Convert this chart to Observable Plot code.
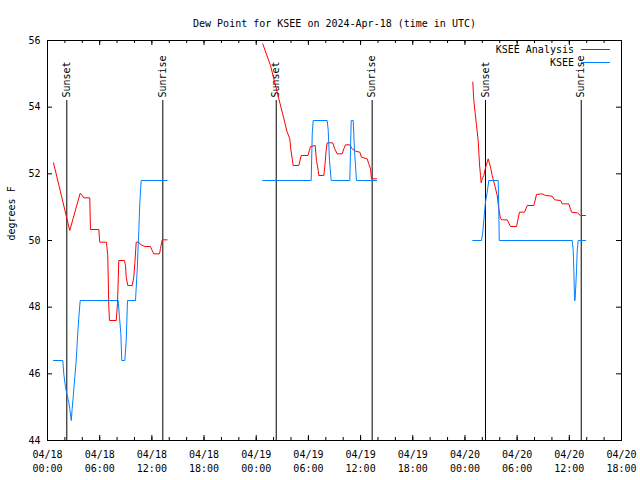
<!DOCTYPE html>
<html><head><meta charset="utf-8">
<script src="https://cdn.jsdelivr.net/npm/d3@7"></script>
<script src="https://cdn.jsdelivr.net/npm/@observablehq/plot@0.6"></script>
<style>html,body{margin:0;padding:0;background:#fff} svg{display:block}</style>
</head><body><div id="chart"></div>
<script>
// ---- data (time in hours since 2024-04-18 00:00 UTC, dew point in °F) ----
const titleText = "Dew Point for KSEE on 2024-Apr-18 (time in UTC)";
const yLabelText = "degrees F";
const startISO = "2024-04-18T00:00:00Z";
const endISO = "2024-04-20T18:00:00Z";

const analysisHours = [
  0.69,2.56,3.76,3.99,4.17,4.86,4.94,5.90,6.01,6.78,6.93,7.05,7.13,7.90,8.05,8.20,8.85,8.97,9.05,9.23,9.74,9.92,10.04,10.20,10.50,10.69,11.19,11.84,12.04,12.22,12.88,12.99,13.19,13.76,
  24.75,25.64,26.41,26.99,27.56,27.86,27.97,28.14,28.25,28.90,29.17,29.95,30.24,30.78,30.93,31.13,31.19,31.77,31.88,32.04,32.16,32.80,33.03,33.31,33.88,34.07,34.26,34.76,35.03,35.41,35.91,36.10,36.76,36.94,37.14,37.25,37.83,
  48.90,49.02,49.33,49.52,49.67,49.79,49.87,49.98,50.17,50.28,50.44,50.67,50.94,51.13,51.43,51.71,51.89,52.09,52.28,52.86,53.24,53.93,54.27,54.85,55.16,55.92,56.23,56.88,57.26,58.03,58.30,58.99,59.18,59.94,60.25,60.91,61.29,61.86
];
const analysisValues = [
  52.33,50.30,51.42,51.35,51.28,51.28,50.33,50.33,49.95,49.95,49.55,48.00,47.60,47.60,48.11,49.40,49.40,49.25,48.90,48.65,48.65,48.90,49.31,49.95,49.95,49.88,49.82,49.82,49.70,49.60,49.60,49.76,50.02,50.02,
  55.90,55.25,54.45,53.85,53.25,53.05,52.75,52.45,52.25,52.25,52.55,52.55,52.82,52.85,52.40,52.10,51.95,51.95,52.20,52.70,52.93,52.93,52.75,52.60,52.60,52.75,52.87,52.87,52.75,52.68,52.65,52.50,52.45,52.30,52.15,51.85,51.85,
  54.75,54.20,53.45,53.00,52.30,51.95,51.73,51.85,51.95,52.10,52.25,52.45,52.20,51.95,51.65,51.35,50.95,50.65,50.62,50.62,50.42,50.42,50.85,50.85,51.05,51.05,51.38,51.40,51.35,51.33,51.22,51.20,51.10,51.10,50.85,50.83,50.75,50.75
];

const obsHours = [
  0.69,1.76,1.87,2.07,2.27,2.45,2.56,2.73,2.84,2.95,3.14,3.30,3.48,3.60,3.76,8.13,8.28,8.43,8.54,8.89,9.05,9.20,10.12,10.31,10.50,10.61,10.77,13.76,
  24.75,30.32,30.44,30.55,32.16,32.28,32.42,32.62,34.76,34.84,34.92,35.15,35.30,35.53,37.83,
  48.90,49.90,50.05,50.22,50.36,50.56,50.74,51.82,51.89,51.94,60.33,60.45,60.52,60.60,60.66,60.83,60.91,61.02,61.86
];
const obsValues = [
  46.4,46.4,46.01,45.59,45.35,45.14,44.96,44.6,44.96,45.29,45.89,46.4,47.21,47.69,48.2,48.2,47.69,47.21,46.4,46.4,47.0,48.2,48.2,49.1,50.3,51.11,51.8,51.8,
  51.8,51.8,53.2,53.6,53.6,53.3,52.4,51.8,51.8,52.7,53.6,53.6,52.7,51.8,51.8,
  50.0,50.0,50.25,50.75,51.15,51.45,51.8,51.8,50.95,50.0,50.0,49.7,49.1,48.2,48.2,49.1,49.7,50.0,50.0
];

const sunHours = [2.22, 13.26, 26.30, 37.33, 50.36, 61.37];
const sunLabels = ["Sunset", "Sunrise", "Sunset", "Sunrise", "Sunset", "Sunrise"];

const yTicks = [44, 46, 48, 50, 52, 54, 56];
const xTickHours = [0, 6, 12, 18, 24, 30, 36, 42, 48, 54, 60, 66];
const xTickLabels = [
  "04/18\n00:00", "04/18\n06:00", "04/18\n12:00", "04/18\n18:00",
  "04/19\n00:00", "04/19\n06:00", "04/19\n12:00", "04/19\n18:00",
  "04/20\n00:00", "04/20\n06:00", "04/20\n12:00", "04/20\n18:00"
];
const xMinorHours = d3.range(0, 67, 2);

const seriesNames = ["KSEE Analysis", "KSEE"];
const seriesColors = ["#ff0000", "#0080ff"];

// ---- build ----
const t0 = new Date(startISO);
const toDate = h => new Date(+t0 + h * 3600e3);
// split into separate line pieces wherever the data has a gap of more than 10 hours (one piece per day)
const splitByGap = (hours, values) => {
  let seg = 0;
  return hours.map((h, i) => {
    if (i > 0 && h - hours[i - 1] > 10) seg++;
    return {t: toDate(h), v: values[i], s: seg};
  });
};
const analysis = splitByGap(analysisHours, analysisValues);
const obs = splitByGap(obsHours, obsValues);
const sun = sunHours.map((h, i) => ({t: toDate(h), label: sunLabels[i]}));
const xTicks = xTickHours.map(toDate);
const xMinor = xMinorHours.map(toDate);

const W = 640, H = 480, mL = 47, mR = 19, mT = 40, mB = 40;
const pw = W - mL - mR, ph = H - mT - mB;
const majorLen = 5, minorLen = 3;

const legendMark = (index, scales, values, dims) => {
  const g = d3.create("svg:g");
  const xr = dims.width - dims.marginRight;
  seriesNames.forEach((name, i) => {
    const y = dims.marginTop + 9.5 + i * 13;
    g.append("line").attr("x1", xr - 40).attr("x2", xr - 11).attr("y1", y).attr("y2", y)
      .attr("stroke", seriesColors[i]).attr("stroke-width", 1);
    g.append("text").attr("x", xr - 47).attr("y", y).attr("dy", "0.32em")
      .attr("text-anchor", "end").attr("fill", "black").text(name);
  });
  return g.node();
};

const chart = Plot.plot({
  width: W, height: H,
  marginLeft: mL, marginRight: mR, marginTop: mT, marginBottom: mB,
  style: {fontFamily: "'DejaVu Sans Mono', monospace", fontSize: "10px", background: "#fff", overflow: "visible"},
  x: {type: "utc", domain: [toDate(0), new Date(endISO)], axis: null},
  y: {domain: [44, 56], axis: null},
  marks: [
    // ticks (inward, mirrored)
    Plot.ruleX(xMinor, {insetTop: ph - minorLen, stroke: "black"}),
    Plot.ruleX(xMinor, {insetBottom: ph - minorLen, stroke: "black"}),
    Plot.ruleX(xTicks, {insetTop: ph - majorLen, stroke: "black"}),
    Plot.ruleX(xTicks, {insetBottom: ph - majorLen, stroke: "black"}),
    Plot.ruleY(yTicks, {insetRight: pw - majorLen, stroke: "black"}),
    Plot.ruleY(yTicks, {insetLeft: pw - majorLen, stroke: "black"}),
    // tick labels
    Plot.text(xTicks, {x: d => d, text: (d, i) => xTickLabels[i], frameAnchor: "bottom", lineAnchor: "top", dy: 8, lineHeight: 1.4, fill: "black"}),
    Plot.text(yTicks, {y: d => d, text: d => String(d), frameAnchor: "left", textAnchor: "end", dx: -7, fill: "black"}),
    // sunrise / sunset
    Plot.ruleX(sun, {x: "t", insetTop: 60, stroke: "black", strokeWidth: 1}),
    Plot.text(sun, {x: "t", text: "label", frameAnchor: "top", dy: 57, rotate: -90, textAnchor: "start", lineAnchor: "middle", fill: "black"}),
    // series
    Plot.line(analysis, {x: "t", y: "v", z: "s", stroke: seriesColors[0], strokeWidth: 1}),
    Plot.line(obs, {x: "t", y: "v", z: "s", stroke: seriesColors[1], strokeWidth: 1}),
    Plot.frame({stroke: "black"}),
    // titles
    Plot.text([titleText], {frameAnchor: "top", dy: -21, fill: "black"}),
    Plot.text([yLabelText], {frameAnchor: "left", dx: -36, rotate: -90, fill: "black"}),
    legendMark
  ]
});
document.getElementById("chart").appendChild(chart);
</script>
</body></html>
